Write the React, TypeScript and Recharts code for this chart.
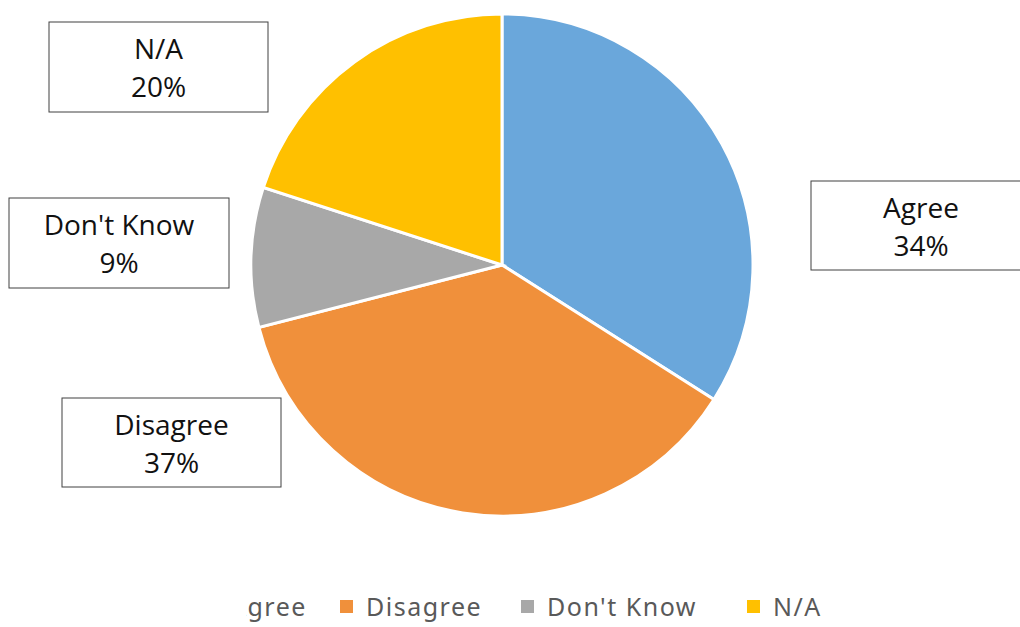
import { PieChart, Pie, Cell } from 'recharts';

const categories = ['Agree', 'Disagree', "Don't Know", 'N/A'];
const shares = [34, 37, 9, 20];
const colors = ['#6AA7DB', '#F0903B', '#A8A8A8', '#FFC000'];

// label box placement, one per slice (same order as categories)
const boxes = [
  { x: 811, y: 181, w: 220, h: 89 },
  { x: 62, y: 398, w: 219, h: 89 },
  { x: 9, y: 198, w: 220, h: 90 },
  { x: 49, y: 22, w: 219, h: 90 },
];

// legend item text start (x); left part is cut off like in the original
const legendX = [230, 366, 547, 773];

const data = categories.map((name, i) => ({ name, value: shares[i] }));

const FONT = '"Open Sans", "Noto Sans", sans-serif';

const renderLabel = (props: any) => {
  const b = boxes[props.index];
  const cx = b.x + b.w / 2;
  return (
    <g key={`lbl-${props.index}`}>
      <rect x={b.x} y={b.y} width={b.w} height={b.h} fill="#fff" stroke="#404040" strokeWidth={1} />
      <text x={cx} y={b.y + 37} textAnchor="middle" fontSize={28} fill="#111" fontFamily={FONT}>
        {props.name}
      </text>
      <text x={cx} y={b.y + 75} textAnchor="middle" fontSize={28} fill="#111" fontFamily={FONT}>
        {`${props.value}%`}
      </text>
    </g>
  );
};

export default function App() {
  return (
    <div style={{ position: 'absolute', left: 0, top: 0, width: 1020, height: 627, background: '#fff', overflow: 'hidden' }}>
      <PieChart width={1020} height={627} margin={{ top: 0, right: 0, bottom: 0, left: 0 }}>
        <Pie
          data={data}
          dataKey="value"
          nameKey="name"
          cx={502}
          cy={265}
          outerRadius={251}
          startAngle={90}
          endAngle={-270}
          stroke="#fff"
          strokeWidth={3}
          label={renderLabel}
          labelLine={false}
          isAnimationActive={false}
        >
          {data.map((d, i) => (
            <Cell key={d.name} fill={colors[i]} />
          ))}
        </Pie>
      </PieChart>

      {/* legend */}
      <div style={{ position: 'absolute', left: 246, top: 588, width: 774, height: 36, overflow: 'hidden' }}>
        {categories.map((c, i) => (
          <div
            key={c}
            style={{
              position: 'absolute',
              left: legendX[i] - 246 - 26,
              top: 0,
              height: 36,
              display: 'flex',
              alignItems: 'center',
              whiteSpace: 'nowrap',
              fontFamily: '"Noto Sans", "Open Sans", sans-serif',
              fontSize: 25,
              letterSpacing: 1.5,
              color: '#595959',
            }}
          >
            <span style={{ width: 13, height: 13, background: colors[i], marginRight: 13, display: 'inline-block' }} />
            <span>{c}</span>
          </div>
        ))}
      </div>
    </div>
  );
}
